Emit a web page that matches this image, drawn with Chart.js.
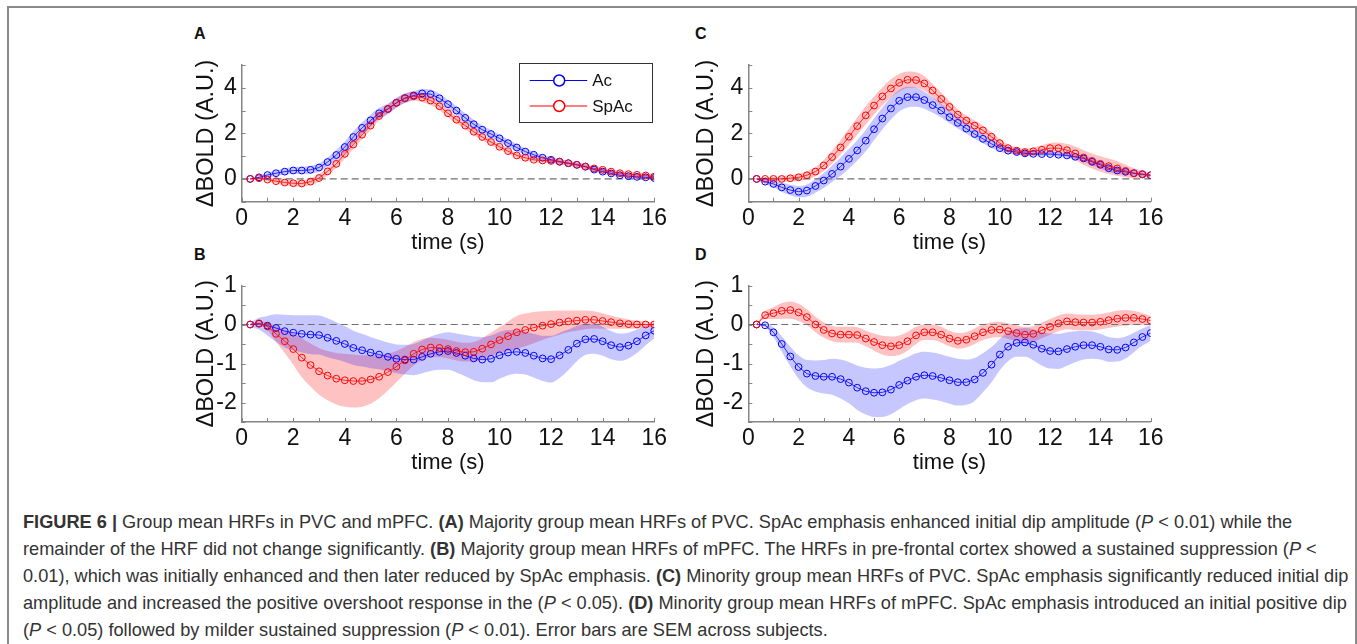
<!DOCTYPE html>
<html>
<head>
<meta charset="utf-8">
<script src="https://cdn.jsdelivr.net/npm/chart.js@4.4.1/dist/chart.umd.min.js"></script>
<style>
  html, body { margin: 0; padding: 0; background: #fff; }
  #fig { position: relative; width: 1357px; height: 644px; overflow: hidden; font-family: "Liberation Sans", Arial, Helvetica, sans-serif; }
  #frame { position: absolute; left: 7px; top: 6px; width: 1346px; height: 700px; border: 2px solid #8a8a8a; border-bottom: none; }
  canvas { position: absolute; }
  .tag { position: absolute; font-weight: bold; font-size: 16px; line-height: 16px; color: #111; }
  #caption { position: absolute; left: 23px; top: 509px; font-size: 18.2px; line-height: 27px; color: #333; white-space: nowrap; }
</style>
</head>
<body>
<div id="fig">
  <div id="frame"></div>
  <div class="tag" style="left:194px;top:26px">A</div>
  <div class="tag" style="left:194px;top:247px">B</div>
  <div class="tag" style="left:695px;top:26px">C</div>
  <div class="tag" style="left:695px;top:247px">D</div>
  <canvas id="panelA" width="480" height="220" style="left:190px;top:40px"></canvas>
  <canvas id="panelB" width="480" height="215" style="left:190px;top:265px"></canvas>
  <canvas id="panelC" width="486" height="220" style="left:690px;top:40px"></canvas>
  <canvas id="panelD" width="486" height="215" style="left:690px;top:265px"></canvas>
  <div id="caption">
    <b>FIGURE 6 |</b> Group mean HRFs in PVC and mPFC. <b>(A)</b> Majority group mean HRFs of PVC. SpAc emphasis enhanced initial dip amplitude (<i>P</i> &lt; 0.01) while the<br>
    remainder of the HRF did not change significantly. <b>(B)</b> Majority group mean HRFs of mPFC. The HRFs in pre-frontal cortex showed a sustained suppression (<i>P</i> &lt;<br>
    0.01), which was initially enhanced and then later reduced by SpAc emphasis. <b>(C)</b> Minority group mean HRFs of PVC. SpAc emphasis significantly reduced initial dip<br>
    amplitude and increased the positive overshoot response in the (<i>P</i> &lt; 0.05). <b>(D)</b> Minority group mean HRFs of mPFC. SpAc emphasis introduced an initial positive dip<br>
    (<i>P</i> &lt; 0.05) followed by milder sustained suppression (<i>P</i> &lt; 0.01). Error bars are SEM across subjects.
  </div>
</div>
<script>
// sample times (s)
const times = [0.33, 0.67, 1, 1.33, 1.67, 2, 2.33, 2.67, 3, 3.33, 3.67, 4, 4.33, 4.67, 5, 5.33,
  5.67, 6, 6.33, 6.67, 7, 7.33, 7.67, 8, 8.33, 8.67, 9, 9.33, 9.67, 10, 10.33, 10.67,
  11, 11.33, 11.67, 12, 12.33, 12.67, 13, 13.33, 13.67, 14, 14.33, 14.67, 15, 15.33, 15.67, 16];

// Panel A - majority group, PVC
const acA = [0, 0.07, 0.17, 0.25, 0.32, 0.37, 0.37, 0.4, 0.5, 0.74, 1.05, 1.4, 1.84, 2.24, 2.57, 2.88,
  3.07, 3.34, 3.55, 3.66, 3.75, 3.72, 3.54, 3.28, 3.0, 2.68, 2.4, 2.16, 1.97, 1.78, 1.57, 1.38,
  1.2, 1.06, 0.93, 0.84, 0.76, 0.69, 0.62, 0.54, 0.41, 0.32, 0.24, 0.16, 0.12, 0.09, 0.07, 0.04];
const acA_sem = [0.03, 0.06, 0.1, 0.12, 0.14, 0.15, 0.16, 0.17, 0.18, 0.2, 0.22, 0.24, 0.25, 0.25, 0.25, 0.24,
  0.23, 0.22, 0.21, 0.2, 0.2, 0.2, 0.2, 0.2, 0.2, 0.2, 0.2, 0.19, 0.18, 0.17, 0.16, 0.15,
  0.14, 0.13, 0.12, 0.12, 0.11, 0.1, 0.1, 0.1, 0.1, 0.1, 0.09, 0.08, 0.08, 0.07, 0.07, 0.06];
const spA = [0, 0.03, -0.03, -0.1, -0.16, -0.19, -0.2, -0.12, 0.04, 0.33, 0.66, 1.1, 1.51, 1.94, 2.34, 2.76,
  3.07, 3.34, 3.53, 3.63, 3.57, 3.44, 3.19, 2.88, 2.6, 2.34, 2.07, 1.84, 1.62, 1.41, 1.22, 1.03,
  0.93, 0.84, 0.81, 0.79, 0.75, 0.69, 0.62, 0.54, 0.46, 0.4, 0.32, 0.25, 0.21, 0.18, 0.15, 0.1];
const spA_sem = [0.02, 0.05, 0.08, 0.1, 0.12, 0.13, 0.14, 0.15, 0.16, 0.17, 0.18, 0.2, 0.2, 0.2, 0.2, 0.2,
  0.2, 0.2, 0.2, 0.2, 0.2, 0.2, 0.19, 0.18, 0.17, 0.16, 0.15, 0.14, 0.13, 0.12, 0.12, 0.11,
  0.11, 0.1, 0.1, 0.1, 0.1, 0.1, 0.1, 0.1, 0.1, 0.1, 0.1, 0.1, 0.1, 0.1, 0.1, 0.1];

// Panel B - majority group, mPFC
const acB = [0, 0.02, -0.03, -0.09, -0.17, -0.21, -0.24, -0.26, -0.27, -0.34, -0.42, -0.5, -0.6, -0.66, -0.72, -0.77,
  -0.83, -0.88, -0.9, -0.9, -0.83, -0.75, -0.7, -0.68, -0.73, -0.8, -0.87, -0.9, -0.88, -0.79, -0.72, -0.7,
  -0.73, -0.8, -0.87, -0.89, -0.79, -0.65, -0.49, -0.38, -0.37, -0.43, -0.53, -0.58, -0.54, -0.43, -0.28, -0.16];
const acB_sem = [0.05, 0.15, 0.25, 0.35, 0.42, 0.45, 0.48, 0.5, 0.5, 0.5, 0.48, 0.46, 0.44, 0.42, 0.4, 0.38,
  0.37, 0.37, 0.38, 0.4, 0.42, 0.44, 0.46, 0.48, 0.5, 0.53, 0.56, 0.58, 0.6, 0.6, 0.58, 0.56,
  0.55, 0.56, 0.58, 0.6, 0.58, 0.52, 0.45, 0.4, 0.38, 0.37, 0.36, 0.35, 0.33, 0.3, 0.25, 0.2];
const spB = [0, 0.03, -0.05, -0.24, -0.43, -0.63, -0.85, -1.04, -1.2, -1.31, -1.39, -1.43, -1.45, -1.45, -1.41, -1.34,
  -1.22, -1.08, -0.92, -0.75, -0.64, -0.59, -0.6, -0.63, -0.68, -0.71, -0.7, -0.62, -0.51, -0.4, -0.3, -0.2,
  -0.14, -0.08, -0.03, 0.01, 0.05, 0.08, 0.1, 0.12, 0.12, 0.09, 0.06, 0.03, 0.01, 0, 0, 0];
const spB_sem = [0, 0.05, 0.1, 0.2, 0.3, 0.4, 0.5, 0.55, 0.6, 0.63, 0.66, 0.68, 0.68, 0.66, 0.62, 0.55,
  0.47, 0.4, 0.34, 0.3, 0.27, 0.25, 0.24, 0.24, 0.24, 0.24, 0.25, 0.27, 0.3, 0.33, 0.38, 0.42,
  0.42, 0.4, 0.37, 0.34, 0.31, 0.28, 0.26, 0.24, 0.22, 0.2, 0.17, 0.14, 0.12, 0.1, 0.08, 0.06];

// Panel C - minority group, PVC
const acC = [0, -0.12, -0.22, -0.37, -0.49, -0.56, -0.51, -0.31, -0.07, 0.22, 0.54, 0.88, 1.25, 1.68, 2.18, 2.65,
  3.09, 3.43, 3.59, 3.59, 3.46, 3.24, 3.0, 2.71, 2.46, 2.21, 1.97, 1.76, 1.54, 1.35, 1.24, 1.18,
  1.12, 1.1, 1.09, 1.09, 1.06, 1.03, 0.97, 0.9, 0.75, 0.62, 0.47, 0.37, 0.31, 0.25, 0.2, 0.16];
const acC_sem = [0.05, 0.1, 0.15, 0.2, 0.23, 0.25, 0.27, 0.3, 0.33, 0.36, 0.4, 0.43, 0.45, 0.47, 0.48, 0.48,
  0.48, 0.47, 0.45, 0.42, 0.38, 0.34, 0.3, 0.27, 0.25, 0.23, 0.21, 0.2, 0.18, 0.16, 0.14, 0.12,
  0.1, 0.1, 0.1, 0.1, 0.1, 0.1, 0.12, 0.14, 0.16, 0.16, 0.15, 0.14, 0.12, 0.1, 0.08, 0.06];
const spC = [0, 0, 0, 0, 0.03, 0.07, 0.16, 0.32, 0.59, 0.96, 1.38, 1.85, 2.32, 2.79, 3.22, 3.62,
  3.97, 4.22, 4.35, 4.34, 4.19, 3.88, 3.51, 3.16, 2.82, 2.56, 2.34, 2.13, 1.85, 1.57, 1.35, 1.24,
  1.18, 1.21, 1.28, 1.35, 1.35, 1.26, 1.12, 0.94, 0.79, 0.66, 0.56, 0.46, 0.35, 0.25, 0.21, 0.16];
const spC_sem = [0.05, 0.08, 0.1, 0.12, 0.14, 0.16, 0.18, 0.2, 0.24, 0.28, 0.32, 0.35, 0.38, 0.4, 0.4, 0.4,
  0.4, 0.38, 0.36, 0.34, 0.32, 0.3, 0.28, 0.26, 0.24, 0.22, 0.22, 0.22, 0.2, 0.18, 0.16, 0.15,
  0.15, 0.17, 0.2, 0.23, 0.25, 0.27, 0.3, 0.32, 0.33, 0.34, 0.34, 0.32, 0.28, 0.22, 0.15, 0.1];

// Panel D - minority group, mPFC
const acD = [0, -0.02, -0.2, -0.5, -0.82, -1.09, -1.26, -1.32, -1.34, -1.34, -1.4, -1.49, -1.62, -1.71, -1.75, -1.74,
  -1.67, -1.55, -1.44, -1.34, -1.3, -1.32, -1.37, -1.43, -1.48, -1.48, -1.41, -1.24, -1.03, -0.77, -0.57, -0.47,
  -0.46, -0.52, -0.62, -0.68, -0.69, -0.63, -0.57, -0.53, -0.53, -0.57, -0.64, -0.65, -0.59, -0.46, -0.32, -0.22];
const acD_sem = [0, 0.05, 0.12, 0.2, 0.25, 0.3, 0.35, 0.4, 0.43, 0.46, 0.5, 0.53, 0.57, 0.6, 0.62, 0.63,
  0.63, 0.62, 0.6, 0.6, 0.6, 0.6, 0.6, 0.6, 0.6, 0.58, 0.55, 0.5, 0.45, 0.4, 0.37, 0.36,
  0.37, 0.4, 0.43, 0.45, 0.45, 0.43, 0.4, 0.37, 0.35, 0.33, 0.32, 0.3, 0.28, 0.25, 0.22, 0.2];
const spD = [0, 0.24, 0.29, 0.35, 0.37, 0.31, 0.19, 0, -0.14, -0.23, -0.26, -0.26, -0.27, -0.36, -0.45, -0.53,
  -0.56, -0.53, -0.43, -0.28, -0.2, -0.2, -0.26, -0.36, -0.42, -0.39, -0.3, -0.2, -0.14, -0.13, -0.17, -0.22,
  -0.26, -0.24, -0.15, -0.06, 0.03, 0.08, 0.06, 0.05, 0.05, 0.07, 0.11, 0.15, 0.17, 0.17, 0.14, 0.1];
const spD_sem = [0, 0.1, 0.15, 0.2, 0.22, 0.22, 0.2, 0.2, 0.2, 0.2, 0.2, 0.2, 0.2, 0.2, 0.22, 0.24,
  0.25, 0.25, 0.24, 0.22, 0.2, 0.2, 0.2, 0.2, 0.2, 0.2, 0.2, 0.2, 0.2, 0.2, 0.2, 0.2,
  0.2, 0.2, 0.2, 0.2, 0.2, 0.2, 0.2, 0.2, 0.2, 0.2, 0.2, 0.2, 0.2, 0.18, 0.15, 0.12];

// tick labels
const xTickLabels = [0, 2, 4, 6, 8, 10, 12, 14, 16];
const yLabelsTop = [0, 2, 4];
const yLabelsBottom = [-2, -1, 0, 1];
const seriesNames = ['Ac', 'SpAc'];

const BLUE = '#0000ff';
const RED = '#ff0000';
const AXIS = '#858585';
const FONT = '"Liberation Sans", Arial, Helvetica, sans-serif';

function pts(vals, sem, sign) {
  return times.map((t, i) => ({ x: t, y: sem ? vals[i] + sign * sem[i] : vals[i] }));
}

// small inward tick marks, like the original figure
const innerTicks = {
  id: 'innerTicks',
  afterDraw(chart, args, opts) {
    const { ctx, chartArea: a, scales: { x, y } } = chart;
    ctx.save();
    ctx.strokeStyle = AXIS;
    ctx.lineWidth = 1;
    ctx.beginPath();
    for (let v = x.min; v <= x.max + 1e-6; v += 1) {
      const px = Math.round(x.getPixelForValue(v)) + 0.5;
      ctx.moveTo(px, a.bottom); ctx.lineTo(px, a.bottom - 4);
    }
    for (let v = y.min; v <= y.max + 1e-6; v += opts.yStep) {
      const py = Math.round(y.getPixelForValue(v)) + 0.5;
      ctx.moveTo(a.left, py); ctx.lineTo(a.left + 4, py);
    }
    ctx.stroke();
    ctx.restore();
  }
};

// boxed legend drawn in panel A
const boxLegend = {
  id: 'boxLegend',
  afterDraw(chart, args, opts) {
    if (!opts.show) return;
    const { ctx, chartArea: a } = chart;
    const w = 133, h = 59;
    const bx = a.right - 2 - w, by = a.top - 2.5;
    ctx.save();
    ctx.fillStyle = '#fff';
    ctx.fillRect(bx, by, w, h);
    ctx.strokeStyle = '#333';
    ctx.lineWidth = 1;
    ctx.strokeRect(Math.round(bx) + 0.5, Math.round(by) + 0.5, w, h);
    [BLUE, RED].forEach((c, i) => {
      const ly = by + 18 + i * 25.5;
      ctx.strokeStyle = c;
      ctx.lineWidth = 1;
      ctx.beginPath(); ctx.moveTo(bx + 10.5, ly); ctx.lineTo(bx + 68, ly); ctx.stroke();
      ctx.fillStyle = '#fff';
      ctx.lineWidth = 1.5;
      ctx.beginPath(); ctx.arc(bx + 40, ly, 5.5, 0, Math.PI * 2); ctx.fill(); ctx.stroke();
      ctx.fillStyle = '#111';
      ctx.font = '17px ' + FONT;
      ctx.textBaseline = 'middle';
      ctx.fillText(seriesNames[i], bx + 73, ly + 1);
    });
    ctx.restore();
  }
};

function makePanel(id, ac, acSem, sp, spSem, o) {
  const band = (vals, sem, fillColor) => [
    { data: pts(vals, sem, 1), borderWidth: 0, pointRadius: 0, fill: '+1', backgroundColor: fillColor,
      cubicInterpolationMode: 'monotone', order: 10 },
    { data: pts(vals, sem, -1), borderWidth: 0, pointRadius: 0, fill: false,
      cubicInterpolationMode: 'monotone', order: 10 }
  ];
  const line = (vals, color, order) => ({
    data: pts(vals), borderColor: color, borderWidth: 0.8, pointRadius: 3.4, pointBorderWidth: 1,
    pointBorderColor: color, pointBackgroundColor: 'rgba(255,255,255,0)', fill: false, tension: 0, order: order
  });
  new Chart(document.getElementById(id), {
    type: 'line',
    data: {
      datasets: [
        ...band(ac, acSem, 'rgba(0,0,255,0.22)'),
        ...band(sp, spSem, 'rgba(255,0,0,0.24)'),
        { data: [{ x: 0, y: 0 }, { x: 16, y: 0 }], borderColor: '#707070', borderWidth: 1.2,
          borderDash: [7, 4], pointRadius: 0, fill: false, order: 5 },
        line(ac, BLUE, 2),
        line(sp, RED, 1)
      ]
    },
    options: {
      responsive: false,
      animation: false,
      devicePixelRatio: 1,
      layout: { padding: { left: 0, top: o.padTop, right: o.padRight, bottom: 0 } },
      plugins: {
        legend: { display: false },
        tooltip: { enabled: false },
        innerTicks: { yStep: o.yStep },
        boxLegend: { show: !!o.legend }
      },
      scales: {
        x: {
          type: 'linear', min: 0, max: 16,
          grid: { display: false, drawTicks: false, tickLength: 0 },
          border: { display: true, color: AXIS, width: 1.5 },
          ticks: { stepSize: 2, includeBounds: false, autoSkip: false, maxRotation: 0, padding: 3, color: '#111',
            font: { family: FONT, size: 23 },
            callback: v => xTickLabels.includes(v) ? String(v) : '' },
          title: { display: true, text: 'time (s)', color: '#111', font: { family: FONT, size: 22 },
            padding: { top: 0, bottom: 4 } },
          afterFit: s => { s.height = o.xHeight; }
        },
        y: {
          min: o.yMin, max: o.yMax,
          grid: { display: false, drawTicks: false, tickLength: 0 },
          border: { display: true, color: AXIS, width: 1.5 },
          ticks: { stepSize: 1, includeBounds: false, autoSkip: false, padding: 5, color: '#111',
            font: { family: FONT, size: 23 },
            callback: v => o.yLabels.includes(v) ? String(v) : '' },
          title: { display: true, text: 'ΔBOLD (A.U.)', color: '#111', font: { family: FONT, size: 23.5 },
            padding: { top: 2, bottom: 0 } },
          afterFit: s => { s.width = o.yWidth; }
        }
      }
    },
    plugins: [innerTicks, boxLegend]
  });
}

makePanel('panelA', acA, acA_sem, spA, spA_sem,
  { yMin: -1, yMax: 5, yStep: 1, yLabels: yLabelsTop, padTop: 25, padRight: 15, xHeight: 58.3, yWidth: 51.7, legend: true });
makePanel('panelB', acB, acB_sem, spB, spB_sem,
  { yMin: -2.5, yMax: 1, yStep: 0.5, yLabels: yLabelsBottom, padTop: 20.5, padRight: 15, xHeight: 58, yWidth: 51.7 });
makePanel('panelC', acC, acC_sem, spC, spC_sem,
  { yMin: -1, yMax: 5, yStep: 1, yLabels: yLabelsTop, padTop: 25, padRight: 25.3, xHeight: 58.3, yWidth: 58.3 });
makePanel('panelD', acD, acD_sem, spD, spD_sem,
  { yMin: -2.5, yMax: 1, yStep: 0.5, yLabels: yLabelsBottom, padTop: 20.5, padRight: 25.3, xHeight: 58, yWidth: 58.3 });
</script>
</body>
</html>
